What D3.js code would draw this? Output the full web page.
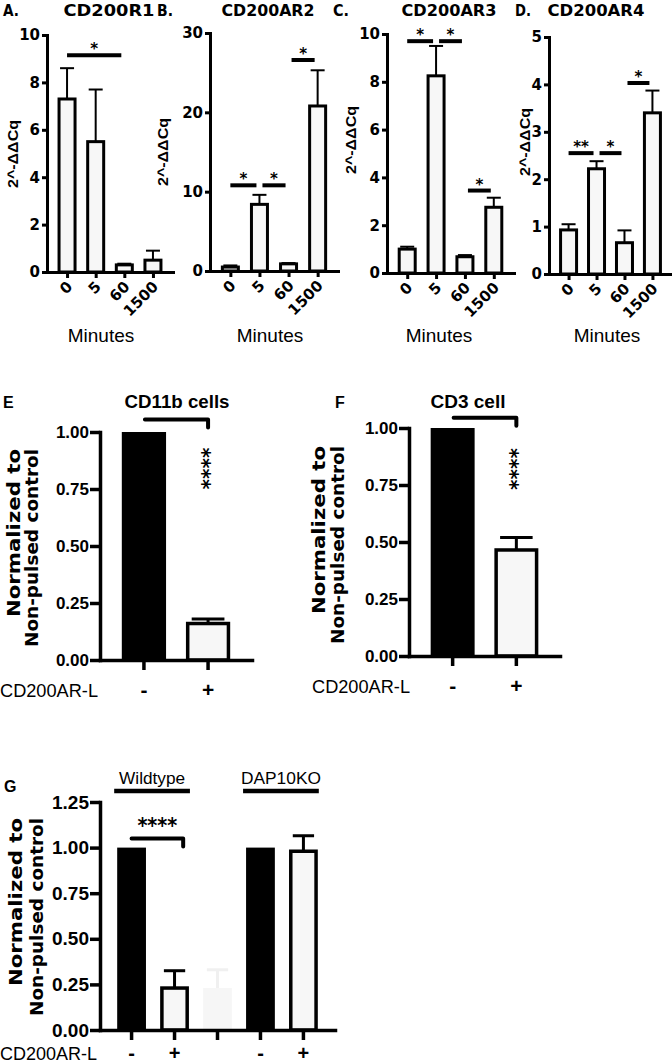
<!DOCTYPE html>
<html><head><meta charset="utf-8">
<script src="https://cdn.jsdelivr.net/npm/d3@7"></script>
<style>body{margin:0;background:#fff}svg{display:block}</style>
</head><body>
<svg id="fig" width="672" height="1064"></svg>
<script>
// ---------- DATA ----------
const minutes = ["0", "5", "60", "1500"];
const cd200r1Mean = [7.3, 5.5, 0.3, 0.5];
const cd200r1Sem = [1.3, 2.2, 0.05, 0.4];
const cd200ar2Mean = [0.5, 8.4, 0.9, 20.8];
const cd200ar2Sem = [0.2, 1.2, 0.1, 4.5];
const cd200ar3Mean = [1.0, 8.25, 0.68, 2.75];
const cd200ar3Sem = [0.1, 1.25, 0.07, 0.4];
const cd200ar4Mean = [0.93, 2.22, 0.66, 3.4];
const cd200ar4Sem = [0.12, 0.16, 0.26, 0.47];
const ticksA = [0, 2, 4, 6, 8, 10];
const ticksB = [0, 10, 20, 30];
const ticksC = [0, 2, 4, 6, 8, 10];
const ticksD = [0, 1, 2, 3, 4, 5];
const sigA = [["0", "60", 9.15, "*"]];
const sigB = [["0", "5", 10.8, "*"], ["5", "60", 10.8, "*"], ["60", "1500", 26.6, "*"]];
const sigC = [["0", "5", 9.7, "*"], ["5", "60", 9.7, "*"], ["60", "1500", 3.45, "*"]];
const sigD = [["0", "5", 2.55, "**"], ["5", "60", 2.55, "*"], ["60", "1500", 4.03, "*"]];

const ligand = ["-", "+"];
const cd11bMean = [1.0, 0.16];
const cd11bSem = [0, 0.02];
const cd3Mean = [1.0, 0.465];
const cd3Sem = [0, 0.055];
const normTicks = [0, 0.25, 0.5, 0.75, 1.0];
const sigE = { from: "-", to: "+", y: 1.055, label: "****", labelY: 0.84 };
const sigF = { from: "-", to: "+", y: 1.045, label: "****", labelY: 0.82 };

const gCats = ["WT -", "WT +", "blank", "KO -", "KO +"];
const gTickLabels = ["-", "+", "", "-", "+"];
const gMean = [1.0, 0.23, 0.23, 1.0, 0.98];
const gSem = [0, 0.095, 0.1, 0, 0.085];
const gTicks = [0, 0.25, 0.5, 0.75, 1.0, 1.25];
const gGroups = [{ label: "Wildtype", cats: ["WT -", "WT +"] }, { label: "DAP10KO", cats: ["KO -", "KO +"] }];
const sigG = { from: "WT -", to: "WT +", y: 1.05, label: "****", labelY: 1.15 };

// ---------- HELPERS ----------
const svg = d3.select("#fig");
const SANS = "'Liberation Sans', Arial, sans-serif";
const WIDE = "'DejaVu Sans', sans-serif";
function txt(g, str, o) {
  const t = g.append("text").text(str)
    .attr("transform", `translate(${o.x},${o.y})` + (o.rot ? ` rotate(${o.rot})` : ""))
    .attr("font-family", o.family || SANS)
    .attr("font-size", o.size)
    .attr("font-weight", o.bold ? "bold" : "normal")
    .attr("text-anchor", o.anchor || "start")
    .attr("fill", o.fill || "#000");
  if (o.dy) t.attr("dy", o.dy);
  if (o.len) t.attr("textLength", o.len).attr("lengthAdjust", "spacingAndGlyphs");
  return t;
}

// ---------- TOP PANELS ----------
function topPanel(c) {
  const g = svg.append("g");
  const x = d3.scalePoint().domain(minutes).range([c.x0, c.x0 + c.L]).padding(0.7);
  const y = d3.scaleLinear().domain([0, c.ymax]).range([c.y0, c.yTop]);
  const bw = 16;
  const rows = minutes.map((m, i) => ({ m, v: c.mean[i], s: c.sem[i] }));

  g.selectAll("rect.bar").data(rows).join("rect")
    .attr("x", d => x(d.m) - bw / 2).attr("y", d => y(d.v))
    .attr("width", bw).attr("height", d => y(0) - y(d.v))
    .attr("fill", "#f7f7f7").attr("stroke", "#000").attr("stroke-width", 3);
  g.selectAll("line.eb").data(rows).join("line")
    .attr("x1", d => x(d.m)).attr("x2", d => x(d.m))
    .attr("y1", d => y(d.v)).attr("y2", d => y(d.v + d.s))
    .attr("stroke", "#000").attr("stroke-width", 2);
  g.selectAll("line.cap").data(rows).join("line")
    .attr("x1", d => x(d.m) - 7).attr("x2", d => x(d.m) + 7)
    .attr("y1", d => y(d.v + d.s)).attr("y2", d => y(d.v + d.s))
    .attr("stroke", "#000").attr("stroke-width", 2);

  const ya = g.append("g").attr("transform", `translate(${c.x0},0)`)
    .call(d3.axisLeft(y).tickValues(c.ticks).tickFormat(d3.format("d")).tickSize(5).tickSizeOuter(0).tickPadding(2));
  const xa = g.append("g").attr("transform", `translate(0,${c.y0})`)
    .call(d3.axisBottom(x).tickSize(6).tickSizeOuter(0));
  [ya, xa].forEach(a => {
    a.select(".domain").attr("stroke-width", 3).attr("stroke-linecap", "square");
    a.selectAll(".tick line").attr("stroke-width", 3);
    a.selectAll("text").attr("font-family", WIDE).attr("font-weight", "bold").attr("font-size", 15).attr("fill", "#000");
  });
  xa.selectAll(".tick text").attr("y", 0).attr("x", 0).attr("dy", "0.35em")
    .attr("transform", "translate(2,12) rotate(-45)").attr("text-anchor", "end");

  let prevEnd = null;
  c.sig.forEach(s => {
    const start = x(s[0]) + (prevEnd === s[0] ? 3 : 0);
    const end = x(s[1]) - 3;
    prevEnd = s[1];
    g.append("line").attr("x1", start).attr("x2", end)
      .attr("y1", y(s[2])).attr("y2", y(s[2]))
      .attr("stroke", "#000").attr("stroke-width", 4);
    txt(g, s[3], { x: (start + end) / 2, y: y(s[2]) - 1, size: 15, bold: true, family: WIDE, anchor: "middle" });
  });

  txt(g, c.letter, { x: c.letterX, y: 16, size: 15, bold: true, family: WIDE, len: 16 });
  txt(g, c.title, { x: c.titleX, y: 16, size: 15, bold: true, family: WIDE, anchor: "middle", len: c.titleLen });
  txt(g, "2^-ΔΔCq", { x: c.ylabX, y: c.ylabY, rot: -90, size: 15, bold: true, anchor: "middle", dy: "0.35em", len: 68 });
  txt(g, "Minutes", { x: c.minX, y: 342, size: 19, anchor: "middle" });
}

topPanel({ x0: 47, y0: 272, yTop: 35, L: 126, ymax: 10, ticks: ticksA, mean: cd200r1Mean, sem: cd200r1Sem, sig: sigA,
  letter: "A.", letterX: 3, title: "CD200R1", titleX: 109, titleLen: 91, ylabX: 13, ylabY: 154, minX: 101 });
topPanel({ x0: 210, y0: 271, yTop: 33, L: 128, ymax: 30, ticks: ticksB, mean: cd200ar2Mean, sem: cd200ar2Sem, sig: sigB,
  letter: "B.", letterX: 157, title: "CD200AR2", titleX: 268, titleLen: 93, ylabX: 163, ylabY: 152, minX: 270 });
topPanel({ x0: 387, y0: 273, yTop: 34, L: 127, ymax: 10, ticks: ticksC, mean: cd200ar3Mean, sem: cd200ar3Sem, sig: sigC,
  letter: "C.", letterX: 333, title: "CD200AR3", titleX: 449, titleLen: 95, ylabX: 351, ylabY: 140, minX: 439 });
topPanel({ x0: 549, y0: 274, yTop: 37, L: 123, ymax: 5, ticks: ticksD, mean: cd200ar4Mean, sem: cd200ar4Sem, sig: sigD,
  letter: "D.", letterX: 515, title: "CD200AR4", titleX: 596, titleLen: 97, ylabX: 525, ylabY: 142, minX: 607 });

// ---------- NORMALIZED PANELS ----------
function styleAxis(a, size) {
  a.select(".domain").attr("stroke-width", 3.5).attr("stroke-linecap", "square");
  a.selectAll(".tick line").attr("stroke-width", 3.5);
  a.selectAll("text").attr("font-family", SANS).attr("font-weight", "bold").attr("font-size", size).attr("fill", "#000");
}
function barRows(cats, mean, sem) { return cats.map((k, i) => ({ k, v: mean[i], s: sem[i] })); }
function drawBars(g, rows, x, y, fillFor) {
  const bw = x.bandwidth();
  rows.forEach(d => {
    const f = fillFor(d.k);
    if (f === "black") {
      g.append("rect").attr("x", x(d.k)).attr("y", y(d.v)).attr("width", bw).attr("height", y(0) - y(d.v)).attr("fill", "#000");
    } else if (f === "ghost") {
      g.append("rect").attr("x", x(d.k)).attr("y", y(d.v)).attr("width", bw).attr("height", y(0) - y(d.v)).attr("fill", "#f6f6f6");
    } else {
      g.append("rect").attr("x", x(d.k) + 1.75).attr("y", y(d.v)).attr("width", bw - 3.5).attr("height", y(0) - y(d.v))
        .attr("fill", "#f7f7f7").attr("stroke", "#000").attr("stroke-width", 3.5);
    }
    if (d.s > 0) {
      const cx = x(d.k) + bw / 2, col = f === "ghost" ? "#f0f0f0" : "#000";
      g.append("line").attr("x1", cx).attr("x2", cx).attr("y1", y(d.v)).attr("y2", y(d.v + d.s)).attr("stroke", col).attr("stroke-width", 3);
      g.append("line").attr("x1", cx - bw * 0.37).attr("x2", cx + bw * 0.37).attr("y1", y(d.v + d.s)).attr("y2", y(d.v + d.s)).attr("stroke", col).attr("stroke-width", 3);
    }
  });
}
function bracket(g, x1, x2, yy, drop) {
  g.append("path").attr("d", `M${x1},${yy}H${x2}V${yy + drop}`)
    .attr("fill", "none").attr("stroke", "#000").attr("stroke-width", 4)
    .attr("stroke-linecap", "round").attr("stroke-linejoin", "round");
}
function ylab2(g, xs, top) {
  txt(g, "Normalized to", { x: xs[0], y: top, rot: -90, size: 18, bold: true, family: WIDE, anchor: "end", len: 168 });
  txt(g, "Non-pulsed control", { x: xs[1], y: top, rot: -90, size: 18, bold: true, family: WIDE, anchor: "end", len: 198 });
}

function normPanel(c) {
  const g = svg.append("g");
  const x = d3.scaleBand().domain(ligand).range([c.x0, c.x0 + c.L]).paddingInner(0.31).paddingOuter(0.34);
  const y = d3.scaleLinear().domain([0, 1]).range([c.y0, c.yTop]);
  drawBars(g, barRows(ligand, c.mean, c.sem), x, y, k => k === "-" ? "black" : "white");
  const ya = g.append("g").attr("transform", `translate(${c.x0},0)`)
    .call(d3.axisLeft(y).tickValues(normTicks).tickFormat(d3.format(".2f")).tickSize(10).tickSizeOuter(0).tickPadding(1));
  styleAxis(ya, 17);
  const xa = g.append("g").attr("transform", `translate(0,${c.y0})`)
    .call(d3.axisBottom(x).tickSize(10).tickSizeOuter(0).tickFormat(() => ""));
  styleAxis(xa, 20);
  ligand.forEach(k => txt(g, k, { x: x(k) + x.bandwidth() / 2, y: c.y0 + 37, size: 21, bold: true, anchor: "middle" }));
  txt(g, "CD200AR-L", { x: c.lx, y: c.y0 + 37, size: 18, len: 98 });
  const bx1 = x(c.sig.from) + x.bandwidth() / 2 + 1, bx2 = x(c.sig.to) + x.bandwidth() / 2;
  bracket(g, bx1, bx2, y(c.sig.y), 8);
  txt(g, c.sig.label, { x: bx2, y: y(c.sig.labelY), rot: 90, size: 22, bold: true, family: WIDE, anchor: "middle", dy: "0.6em", len: 42 });
  txt(g, c.title, { x: c.titleX, y: 408, size: 18, bold: true, anchor: "middle", len: c.titleLen });
  txt(g, c.letter, { x: c.letterX, y: 408, size: 16, bold: true });
  ylab2(g, c.ylabX, c.ylabTop);
}
normPanel({ x0: 100, y0: 660, yTop: 432, L: 152, mean: cd11bMean, sem: cd11bSem, sig: sigE,
  title: "CD11b cells", titleX: 177, titleLen: 105, letter: "E", letterX: 3, lx: 0, ylabX: [20, 38], ylabTop: 449 });
normPanel({ x0: 409, y0: 656, yTop: 428, L: 151, mean: cd3Mean, sem: cd3Sem, sig: sigF,
  title: "CD3 cell", titleX: 468, titleLen: 75, letter: "F", letterX: 335, lx: 312, ylabX: [325, 344], ylabTop: 446 });

// ---------- PANEL G ----------
(function () {
  const g = svg.append("g");
  const x0 = 100, y0 = 1030, yTop = 802, L = 235;
  const x = d3.scaleBand().domain(gCats).range([x0, x0 + L]).paddingInner(0.33).paddingOuter(0.4);
  const y = d3.scaleLinear().domain([0, 1.25]).range([y0, yTop]);
  const bw = x.bandwidth();
  drawBars(g, barRows(gCats, gMean, gSem), x, y, k => k === "blank" ? "ghost" : (k.endsWith("-") ? "black" : "white"));
  const ya = g.append("g").attr("transform", `translate(${x0},0)`)
    .call(d3.axisLeft(y).tickValues(gTicks).tickFormat(d3.format(".2f")).tickSize(10).tickSizeOuter(0).tickPadding(1));
  styleAxis(ya, 19);
  const xa = g.append("g").attr("transform", `translate(0,${y0})`)
    .call(d3.axisBottom(x).tickSize(10).tickSizeOuter(0).tickFormat(() => ""));
  styleAxis(xa, 20);
  gCats.forEach((k, i) => txt(g, gTickLabels[i], { x: x(k) + bw / 2, y: 1060, size: 20, bold: true, anchor: "middle" }));
  txt(g, "CD200AR-L", { x: 0, y: 1060, size: 18, len: 97 });
  gGroups.forEach(gr => {
    const a = x(gr.cats[0]) - 3, b = x(gr.cats[1]) + bw + 1;
    g.append("line").attr("x1", a).attr("x2", b).attr("y1", 791).attr("y2", 791).attr("stroke", "#000").attr("stroke-width", 4.5);
    txt(g, gr.label, { x: (a + b) / 2, y: 784, size: 17, anchor: "middle", len: gr.label === "Wildtype" ? 66 : 80 });
  });
  const bx1 = x(sigG.from) + bw / 2, bx2 = x(sigG.to) + bw * 0.8;
  bracket(g, bx1, bx2, y(sigG.y), 8);
  txt(g, sigG.label, { x: (bx1 + bx2) / 2, y: y(sigG.labelY), size: 22, bold: true, family: WIDE, anchor: "middle", dy: "0.6em", len: 40 });
  txt(g, "G", { x: 4, y: 792, size: 16, bold: true });
  ylab2(g, [22, 43], 818);
})();
</script>
</body></html>
